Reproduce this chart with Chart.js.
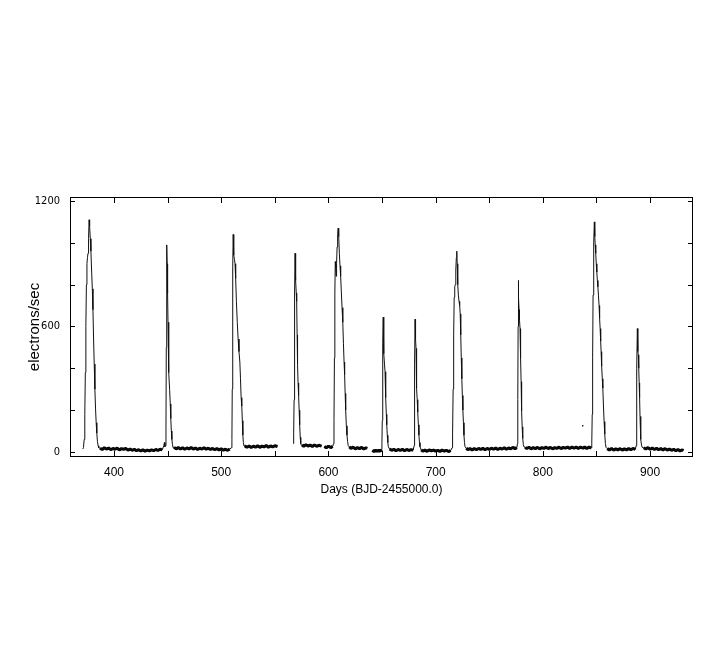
<!DOCTYPE html>
<html>
<head>
<meta charset="utf-8">
<script src="https://cdn.jsdelivr.net/npm/chart.js@4/dist/chart.umd.min.js"></script>
<style>
  html, body { margin: 0; padding: 0; background: #fff; }
  canvas { display: block; }
</style>
</head>
<body>
<canvas id="lightcurve" width="701" height="652"></canvas>
<script>
// [day, electrons/sec]
const burst1 = [[371.0,14],[371.6,22],[372.2,60],[372.8,180],[373.3,380],[373.8,600],[374.3,800],[374.8,900],[375.3,930],[375.8,950],[376.3,1020],[376.8,1110],[377.3,1080],[377.9,1020],[378.5,960],[379.2,860],[379.8,780],[380.4,680],[381,540],[381.6,420],[382.2,300],[382.8,210],[383.4,140],[384,90],[384.6,50],[385.2,30],[385.8,20]];
const quiet1 = [[387,18],[389,12],[391,20],[393,14],[395,19],[397,11],[399,17],[401,13],[403,18],[405,10],[407,16],[409,12],[411,17],[413,9],[415,14],[417,8],[419,13],[421,6],[423,11],[425,5],[427,10],[429,4],[431,9],[433,5],[435,10],[437,6],[439,12],[441,7],[443,13],[445,10]];
const burst2 = [[446.5,30],[447,45],[447.5,25],[448,30],[448.5,120],[448.8,500],[449.1,860],[449.3,990],[449.6,900],[450,760],[450.4,620],[450.8,470],[451.3,380],[451.9,300],[452.5,230],[453,160],[453.5,100],[454,60],[454.6,35],[455.2,20]];
const quiet2 = [[456,22],[458,15],[460,21],[462,14],[464,20],[466,13],[468,19],[470,15],[472,21],[474,14],[476,19],[478,12],[480,18],[482,14],[484,20],[486,13],[488,18],[490,12],[492,17],[494,11],[496,16],[498,10],[500,15],[502,9],[504,13],[506,8],[508,14]];
const burst3 = [[509.5,20],[510,60],[510.3,300],[510.6,650],[510.9,880],[511.2,1040],[511.5,980],[511.9,940],[512.4,920],[512.9,900],[513.5,830],[514.2,720],[515,620],[515.8,540],[516.6,480],[517.4,430],[518,350],[518.6,260],[519.2,220],[519.7,150],[520.2,80],[520.7,45],[521.3,28]];
const quiet3 = [[522,30],[524,22],[526,29],[528,21],[530,28],[532,23],[534,30],[536,22],[538,28],[540,24],[542,31],[544,22],[546,29],[548,24],[550,30],[552.5,26]];

const burst4 = [[567.2,40],[567.6,90],[568,250],[568.3,500],[568.6,760],[568.9,950],[569.2,900],[569.6,820],[570,760],[570.4,720],[570.8,560],[571.2,420],[571.7,330],[572.2,270],[572.7,200],[573.2,130],[573.7,70],[574.2,40],[574.7,32]];
const quiet4a = [[575.5,34],[577,27],[579,35],[581,28],[583,33],[585,26],[587,34],[589,27],[591,32],[593.6,28]];
const quiet4b = [[596.2,26],[598,20],[600,28],[602,21],[604,27]];
const burst5 = [[604.8,40],[605.2,150],[605.6,450],[606,760],[606.4,910],[606.8,880],[607.2,840],[607.6,900],[608.1,980],[608.6,1040],[609.1,1070],[609.6,1030],[610.2,950],[610.8,890],[611.4,840],[612,770],[612.7,690],[613.4,620],[614,520],[614.6,430],[615.1,370],[615.6,280],[616.1,200],[616.7,125],[617.3,80],[617.9,50],[618.5,30]];
const quiet5 = [[619.5,24],[621,17],[623,23],[625,15],[627,21],[629,16],[631,22],[633,14],[635,20],[636.2,17]];

const quiet6 = [[641,8],[642.5,2],[644,9],[645.5,3],[647,8],[648.5,4],[649.5,12]];
const burst6 = [[649.9,40],[650.2,150],[650.5,330],[650.8,520],[651.1,645],[651.4,560],[651.8,470],[652.3,420],[652.8,384],[653.2,330],[653.6,260],[654,180],[654.4,130],[654.9,80],[655.4,45],[655.9,25]];
const quiet7 = [[657,14],[659,8],[661,13],[663,6],[665,12],[667,7],[669,13],[671,6],[673,12],[675,7],[677,11],[679,8]];
const burst7 = [[679.9,30],[680.2,180],[680.5,420],[680.8,635],[681.1,580],[681.4,540],[681.7,495],[682,420],[682.4,305],[682.8,250],[683.3,190],[683.9,130],[684.4,80],[684.9,45],[685.4,25]];
const quiet8 = [[686.5,10],[688,4],[690,9],[692,3],[694,10],[696,5],[698,9],[700,4],[702,8],[704,3],[706,9],[708,4],[710,8],[712,2],[714,7]];
const burst8 = [[715.3,20],[715.8,90],[716.3,300],[716.8,560],[717.3,740],[717.8,790],[718.3,800],[718.8,870],[719.3,930],[719.7,960],[720.1,900],[720.6,800],[721.2,750],[721.8,720],[722.4,700],[722.9,660],[723.4,560],[723.9,450],[724.4,350],[724.9,270],[725.4,200],[725.9,140],[726.4,80],[726.9,45],[727.4,25]];
const quiet9 = [[728.5,18],[730,11],[732,17],[734,10],[736,16],[738,11],[740,17],[742,12],[744,18],[746,11],[748,17],[750,12],[752,18],[754,13],[756,19],[758,12],[760,18],[762,14],[764,20],[766,13],[768,19],[770,15],[772,22],[774,16],[775.8,21]];
const burst9 = [[776.3,40],[776.6,250],[776.9,600],[777.1,820],[777.4,740],[777.8,680],[778.2,630],[778.7,590],[779.2,450],[779.7,336],[780,260],[780.3,195],[780.7,120],[781.2,65],[781.8,35],[782.4,24]];
const quiet10 = [[783.5,22],[785,16],[787,23],[789,15],[791,21],[793,16],[795,22],[797,15],[799,21],[801,17],[803,23],[805,16],[807,22],[809,15],[811,21],[813,17],[815,23],[817,16],[819,22],[821,18],[823,24],[825,17],[827,23],[829,18],[831,24],[833,17],[835,23],[837.5,18],[839,24],[841,17],[843,23],[845,19]];
const burst10 = [[845.6,40],[846,180],[846.4,450],[846.8,750],[847.2,960],[847.6,1000],[848,1100],[848.4,1030],[848.8,990],[849.3,950],[849.8,900],[850.3,860],[850.8,820],[851.3,790],[851.8,750],[852.4,700],[852.9,640],[853.4,590],[853.9,530],[854.3,480],[854.8,410],[855.4,350],[855.9,305],[856.5,220],[857.1,145],[857.7,85],[858.3,41],[858.9,22]];
const quiet11 = [[860,16],[862,10],[864,17],[866,9],[868,15],[870,10],[872,16],[874,9],[876,15],[878,10],[880,16],[882,11],[884,17],[886.3,12]];
const burst11 = [[886.9,30],[887.3,160],[887.7,400],[888.1,590],[888.4,520],[888.7,480],[889,464],[889.4,400],[889.8,330],[890.2,260],[890.6,170],[891,110],[891.5,60],[892,33],[892.6,22]];
const quiet12 = [[894,20],[896,14],[898,21],[900,13],[902,19],[904,12],[906,18],[908,11],[910,17],[912,10],[914,16],[916,9],[918,14],[920,8],[922,13],[924,6],[926,12],[928,5],[930,10],[931,6]];

const strayPoints = [[837.2,125]];

const xTickMarks = [400,450,500,550,600,650,700,750,800,850,900];
const xTickLabels = [400,500,600,700,800,900];
const yTickMarks = [0,200,400,600,800,1000,1200];
const yTickLabels = [0,600,1200];

const segments = [
    [].concat(burst1, quiet1, burst2, quiet2, burst3, quiet3),
    [].concat(burst4, quiet4a),
    [].concat(quiet4b, burst5, quiet5),
    [].concat(quiet6, burst6, quiet7, burst7, quiet8, burst8, quiet9, burst9, quiet10, burst10, quiet11, burst11, quiet12)
];
const quietRuns = [quiet1, quiet2, quiet3, quiet4a, quiet4b, quiet5, quiet6, quiet7, quiet8, quiet9, quiet10, quiet11, quiet12];

function toPoints(arr) {
    return arr.map(p => ({ x: p[0], y: p[1] }));
}

const datasets = segments.map(seg => ({
    data: toPoints(seg),
    showLine: true,
    borderColor: '#111',
    borderWidth: 1,
    pointRadius: 0,
    tension: 0
}));

// the noisy quiescent stretches read as a thick band
quietRuns.forEach(run => {
    datasets.push({
        data: toPoints(run),
        showLine: true,
        borderColor: '#000',
        borderWidth: 3,
        borderJoinStyle: 'bevel',
        pointRadius: 0,
        tension: 0
    });
});

datasets.push({
    data: toPoints(strayPoints),
    showLine: false,
    pointRadius: 0.8,
    backgroundColor: '#000',
    borderColor: '#000',
    borderWidth: 0
});

// IDL style box with inward ticks on all four sides
const frameTicks = {
    id: 'frameTicks',
    afterDraw(chart) {
        const ctx = chart.ctx;
        const a = chart.chartArea;
        const xs = chart.scales.x;
        const ys = chart.scales.y;
        ctx.save();
        ctx.strokeStyle = '#000';
        ctx.lineWidth = 1;
        ctx.strokeRect(a.left + 0.5, a.top + 0.5, a.right - a.left - 1, a.bottom - a.top - 1);
        ctx.beginPath();
        xTickMarks.forEach(v => {
            const px = Math.round(xs.getPixelForValue(v)) + 0.5;
            ctx.moveTo(px, a.bottom);
            ctx.lineTo(px, a.bottom - 6);
            ctx.moveTo(px, a.top);
            ctx.lineTo(px, a.top + 6);
        });
        yTickMarks.forEach(v => {
            const py = Math.round(ys.getPixelForValue(v)) + 0.5;
            ctx.moveTo(a.left, py);
            ctx.lineTo(a.left + 5, py);
            ctx.moveTo(a.right, py);
            ctx.lineTo(a.right - 5, py);
        });
        ctx.stroke();
        ctx.restore();
    }
};

new Chart(document.getElementById('lightcurve'), {
    type: 'scatter',
    data: { datasets: datasets },
    options: {
        responsive: false,
        animation: false,
        layout: { padding: { top: 197, right: 8, left: 0, bottom: 0 } },
        plugins: {
            legend: { display: false },
            tooltip: { enabled: false }
        },
        scales: {
            x: {
                type: 'linear',
                min: 359,
                max: 940,
                afterFit: scale => { scale.height = 195; },
                afterBuildTicks: scale => { scale.ticks = xTickLabels.map(v => ({ value: v })); },
                grid: { display: false, drawTicks: false },
                border: { display: false },
                ticks: {
                    autoSkip: false,
                    maxRotation: 0,
                    padding: 8,
                    color: '#000',
                    font: { family: "'Liberation Sans', Arial, sans-serif", size: 12 },
                    callback: v => String(v)
                },
                title: {
                    display: true,
                    text: 'Days (BJD-2455000.0)',
                    color: '#000',
                    font: { family: "'Liberation Sans', Arial, sans-serif", size: 12 },
                    padding: { top: 0, bottom: 155 }
                }
            },
            y: {
                type: 'linear',
                min: -24,
                max: 1219,
                afterFit: scale => { scale.width = 70; },
                afterBuildTicks: scale => { scale.ticks = yTickLabels.map(v => ({ value: v })); },
                grid: { display: false, drawTicks: false },
                border: { display: false },
                ticks: {
                    autoSkip: false,
                    padding: 10,
                    color: '#000',
                    font: { family: "'Liberation Sans Narrow', 'DejaVu Sans Condensed', 'Liberation Sans', sans-serif", size: 11 },
                    callback: v => String(v)
                },
                title: {
                    display: true,
                    text: 'electrons/sec',
                    color: '#000',
                    font: { family: "'Liberation Sans', Arial, sans-serif", size: 15 },
                    padding: { top: 26, bottom: 0 }
                }
            }
        }
    },
    plugins: [frameTicks]
});
</script>
</body>
</html>
